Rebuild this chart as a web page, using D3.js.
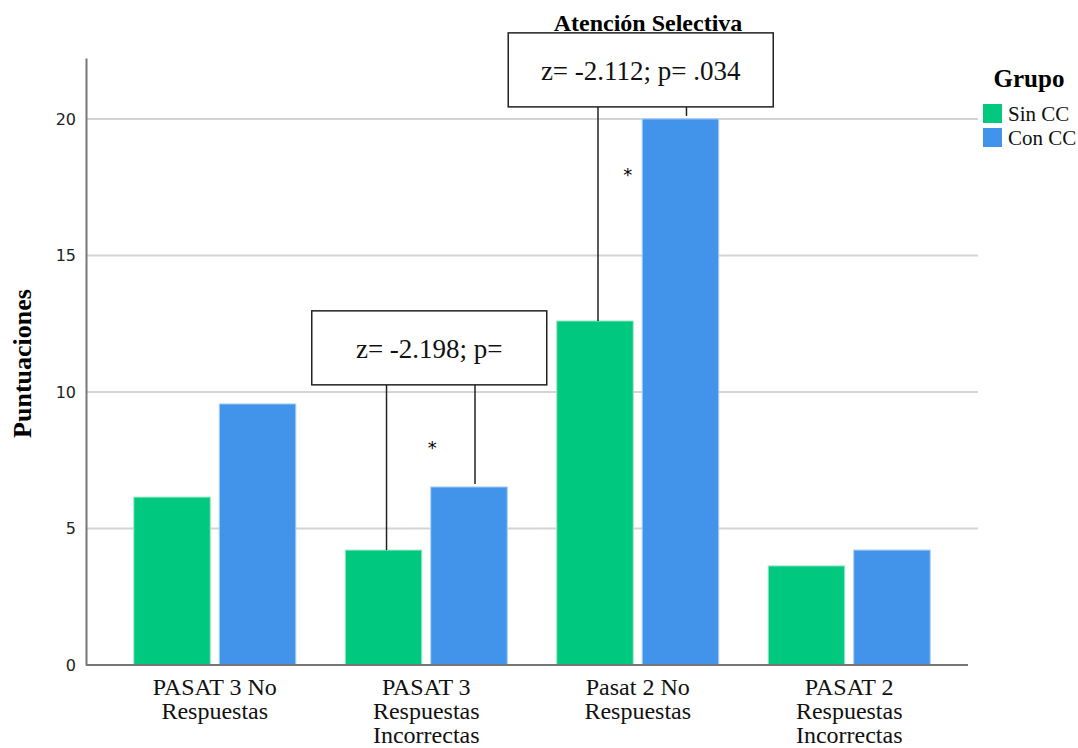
<!DOCTYPE html>
<html>
<head>
<meta charset="utf-8">
<script src="https://cdn.jsdelivr.net/npm/d3@7"></script>
<style>
  body { margin: 0; background: #fff; }
  svg { display: block; }
  .serif { font-family: "Liberation Serif", "Times New Roman", serif; }
</style>
</head>
<body>
<div id="chart"></div>
<script>
// Chart data
const categories = [
  ["PASAT 3 No", "Respuestas"],
  ["PASAT 3", "Respuestas", "Incorrectas"],
  ["Pasat 2 No", "Respuestas"],
  ["PASAT 2", "Respuestas", "Incorrectas"]
];
const groups = ["Sin CC", "Con CC"];
const sinCC = [6.15, 4.21, 12.6, 3.63];
const conCC = [9.56, 6.52, 20.0, 4.21];
const yTicks = [0, 5, 10, 15, 20];

// Annotations: category index, text, box top/bottom in data units, star height
const notes = [
  {cat: 2, text: "z= -2.112; p= .034", top: 23.15, bottom: 20.44, width: 265, star: 18.0, starDx: -10},
  {cat: 1, text: "z= -2.198; p=", top: 12.97, bottom: 10.26, width: 235, star: 8.0, starDx: 6}
];

const colors = ["#00c97f", "#4294ea"];
const W = 1078, H = 748;
const margin = {top: 58, right: 100, bottom: 83, left: 86};
const plotW = W - margin.left - margin.right;
const plotH = H - margin.top - margin.bottom;

const svg = d3.select("#chart").append("svg")
  .attr("width", W)
  .attr("height", H);

const g = svg.append("g")
  .attr("transform", `translate(${margin.left} ${margin.top})`);

// Scales
const x = d3.scaleBand()
  .domain(d3.range(categories.length))
  .range([0, plotW])
  .paddingInner(0.234)
  .paddingOuter(0.226);

const xSub = d3.scaleBand()
  .domain(groups)
  .range([0, x.bandwidth()])
  .paddingInner(0.105);

const y = d3.scaleLinear()
  .domain([0, 22.23])
  .range([plotH, 0]);

// Gridlines
g.append("g")
  .selectAll("line")
  .data(yTicks.filter(d => d > 0))
  .join("line")
  .attr("x1", 0)
  .attr("x2", plotW)
  .attr("y1", d => y(d))
  .attr("y2", d => y(d))
  .attr("stroke", "#d4d4d4")
  .attr("stroke-width", 2);

// Bars
const series = [sinCC, conCC];
groups.forEach((grp, gi) => {
  g.append("g")
    .selectAll("rect")
    .data(series[gi])
    .join("rect")
    .attr("x", (d, i) => x(i) + xSub(grp))
    .attr("y", d => y(d))
    .attr("width", xSub.bandwidth())
    .attr("height", d => plotH - y(d))
    .attr("fill", colors[gi])
    .attr("stroke", gi === 0 ? "#9fe8c8" : "#a9cdf5")
    .attr("stroke-width", 1);
});

// Y axis
const yAxis = g.append("g")
  .call(d3.axisLeft(y).tickValues(yTicks).tickSize(0).tickPadding(10));
yAxis.select(".domain").attr("stroke", "#777").attr("stroke-width", 2);
yAxis.selectAll("text")
  .style("font-family", "'DejaVu Sans', sans-serif")
  .style("font-size", "16px")
  .attr("fill", "#222");

// X axis line
g.append("line")
  .attr("x1", 0)
  .attr("x2", plotW - 10)
  .attr("y1", plotH)
  .attr("y2", plotH)
  .attr("stroke", "#777")
  .attr("stroke-width", 2);

// X labels
const xl = g.append("g")
  .selectAll("text")
  .data(categories)
  .join("text")
  .attr("class", "serif")
  .attr("x", (d, i) => x(i) + x.bandwidth() / 2)
  .attr("y", plotH + 30)
  .attr("text-anchor", "middle")
  .style("font-size", "24px")
  .attr("fill", "#111");
xl.selectAll("tspan")
  .data(d => d)
  .join("tspan")
  .attr("class", "serif")
  .attr("x", function() { return this.parentNode.getAttribute("x"); })
  .attr("dy", (d, i) => i === 0 ? 0 : 24)
  .text(d => d);

// Y axis title
svg.append("text")
  .attr("class", "serif")
  .attr("transform", `translate(31 ${margin.top + plotH / 2 + 2}) rotate(-90)`)
  .attr("text-anchor", "middle")
  .style("font-weight", "bold")
  .style("font-size", "26px")
  .text("Puntuaciones");

// Title
svg.append("text")
  .attr("class", "serif")
  .attr("x", 648)
  .attr("y", 31)
  .attr("text-anchor", "middle")
  .style("font-weight", "bold")
  .style("font-size", "24px")
  .text("Atención Selectiva");

// Annotations
notes.forEach(n => {
  const cx = x(n.cat) + x.bandwidth() / 2 + 3;
  const ax = g.append("g");
  const gx = x(n.cat) + xSub(groups[0]) + xSub.bandwidth() / 2 + 3;
  const bx = x(n.cat) + xSub(groups[1]) + xSub.bandwidth() / 2 + 6;
  ax.append("line")
    .attr("x1", gx).attr("x2", gx)
    .attr("y1", y(n.bottom)).attr("y2", y(sinCC[n.cat]))
    .attr("stroke", "#222").attr("stroke-width", 1.5);
  ax.append("line")
    .attr("x1", bx).attr("x2", bx)
    .attr("y1", y(n.bottom)).attr("y2", y(conCC[n.cat]) - 3)
    .attr("stroke", "#222").attr("stroke-width", 1.5);
  ax.append("rect")
    .attr("x", cx - n.width / 2)
    .attr("y", y(n.top))
    .attr("width", n.width)
    .attr("height", y(n.bottom) - y(n.top))
    .attr("fill", "#fff")
    .attr("stroke", "#222")
    .attr("stroke-width", 1.5);
  ax.append("text")
    .attr("class", "serif")
    .attr("x", cx)
    .attr("y", (y(n.top) + y(n.bottom)) / 2 + 10)
    .attr("text-anchor", "middle")
    .style("font-size", "27px")
    .attr("fill", "#111")
    .text(n.text);
  ax.append("text")
    .attr("x", x(n.cat) + x.bandwidth() / 2 + n.starDx)
    .attr("y", y(n.star) + 7)
    .attr("text-anchor", "middle")
    .style("font-family", "'DejaVu Sans', sans-serif")
    .style("font-size", "18px")
    .text("*");
});

// Legend
const legend = svg.append("g").attr("transform", "translate(983 0)");
legend.append("text")
  .attr("class", "serif")
  .attr("x", 46)
  .attr("y", 87)
  .attr("text-anchor", "middle")
  .style("font-weight", "bold")
  .style("font-size", "25px")
  .text("Grupo");
groups.forEach((grp, i) => {
  legend.append("rect")
    .attr("x", 0)
    .attr("y", 104 + i * 24)
    .attr("width", 19)
    .attr("height", 19)
    .attr("fill", colors[i]);
  legend.append("text")
    .attr("class", "serif")
    .attr("x", 25)
    .attr("y", 121 + i * 24)
    .style("font-size", "21px")
    .attr("fill", "#111")
    .text(grp);
});
</script>
</body>
</html>
